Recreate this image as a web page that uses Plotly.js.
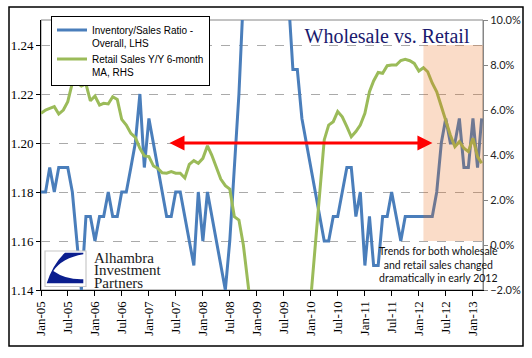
<!DOCTYPE html>
<html>
<head>
<meta charset="utf-8">
<script src="https://cdn.plot.ly/plotly-3.0.1.min.js"></script>
<style>html,body{margin:0;padding:0;background:#fff;}#chart{width:532px;height:358px;}</style>
</head>
<body>
<div id="chart"></div>
<script>
// Monthly observations, Jan-05 .. Mar-13
const months = [
  '2005-01-01','2005-02-01','2005-03-01','2005-04-01','2005-05-01','2005-06-01','2005-07-01','2005-08-01','2005-09-01','2005-10-01','2005-11-01','2005-12-01',
  '2006-01-01','2006-02-01','2006-03-01','2006-04-01','2006-05-01','2006-06-01','2006-07-01','2006-08-01','2006-09-01','2006-10-01','2006-11-01','2006-12-01',
  '2007-01-01','2007-02-01','2007-03-01','2007-04-01','2007-05-01','2007-06-01','2007-07-01','2007-08-01','2007-09-01','2007-10-01','2007-11-01','2007-12-01',
  '2008-01-01','2008-02-01','2008-03-01','2008-04-01','2008-05-01','2008-06-01','2008-07-01','2008-08-01','2008-09-01','2008-10-01','2008-11-01','2008-12-01',
  '2009-01-01','2009-02-01','2009-03-01','2009-04-01','2009-05-01','2009-06-01','2009-07-01','2009-08-01','2009-09-01','2009-10-01','2009-11-01','2009-12-01',
  '2010-01-01','2010-02-01','2010-03-01','2010-04-01','2010-05-01','2010-06-01','2010-07-01','2010-08-01','2010-09-01','2010-10-01','2010-11-01','2010-12-01',
  '2011-01-01','2011-02-01','2011-03-01','2011-04-01','2011-05-01','2011-06-01','2011-07-01','2011-08-01','2011-09-01','2011-10-01','2011-11-01','2011-12-01',
  '2012-01-01','2012-02-01','2012-03-01','2012-04-01','2012-05-01','2012-06-01','2012-07-01','2012-08-01','2012-09-01','2012-10-01','2012-11-01','2012-12-01',
  '2013-01-01','2013-02-01','2013-03-01'
];

// Inventory/Sales Ratio - Overall (LHS)
const invSalesRatio = [
  1.18,1.18,1.19,1.18,1.19,1.19,1.19,1.18,1.16,1.14,1.17,1.17,
  1.16,1.17,1.17,1.18,1.17,1.17,1.18,1.18,1.19,1.20,1.22,1.19,
  1.21,1.20,1.19,1.18,1.17,1.17,1.18,1.18,1.17,1.16,1.15,1.18,
  1.16,1.18,1.17,1.16,1.15,1.14,1.16,1.19,1.22,1.26,1.29,1.31,
  1.33,1.35,1.36,1.34,1.32,1.30,1.28,1.26,1.23,1.23,1.21,1.20,
  1.19,1.18,1.17,1.16,1.16,1.17,1.17,1.18,1.19,1.19,1.17,1.18,
  1.15,1.17,1.15,1.15,1.17,1.17,1.18,1.17,1.16,1.17,1.17,1.17,
  1.17,1.17,1.17,1.17,1.18,1.20,1.21,1.20,1.20,1.21,1.19,1.19,
  1.21,1.19,1.21
];

// Retail Sales Y/Y 6-month MA, % (RHS)
const retailSalesYoY = [
  5.85,6.00,6.07,6.15,5.82,6.00,6.37,7.21,7.21,7.07,7.16,6.41,
  6.62,6.22,6.30,6.27,6.59,6.47,5.58,5.33,4.96,4.78,4.30,3.96,
  3.93,3.51,3.41,3.21,3.19,3.26,3.19,3.19,2.98,3.58,3.75,3.63,
  3.85,4.41,4.00,3.48,2.93,2.64,2.49,1.26,1.11,0.00,-2.10,-3.50,
  -5.20,-6.80,-8.10,-9.00,-9.60,-9.80,-9.50,-8.70,-7.60,-6.20,-4.80,-3.40,
  -2.30,0.10,2.40,4.67,5.33,5.48,5.93,5.70,5.26,4.81,5.04,5.33,
  5.85,6.81,7.29,7.67,7.63,7.97,8.00,8.00,8.20,8.25,8.19,8.07,
  7.73,7.88,7.70,7.19,6.81,6.15,5.48,4.89,4.37,4.59,4.30,4.15,
  4.74,3.93,3.63
];

const seriesNames = ['Inventory/Sales Ratio -<br>Overall, LHS', 'Retail Sales Y/Y 6-month<br>MA, RHS'];
const titleText = 'Wholesale vs. Retail';
const noteText = 'Trends for both wholesale<br>and retail sales changed<br>dramatically in early 2012';
const logoLines = ['Alhambra', 'Investment', 'Partners'];
const arrowSpan = {from: '2007-05-10', to: '2012-04-02', level: 1.20};
const shadeSpan = {from: '2012-02-01', low: 1.16, high: 1.24};

// pixel -> paper helpers for decorative layout items
const M = {l: 41, r: 49, t: 20, b: 68};
const W = 532, H = 358;
const pw = W - M.l - M.r, ph = H - M.t - M.b;
const px = x => (x - M.l) / pw;
const py = y => (H - M.b - y) / ph;

const traces = [
  {
    x: months, y: invSalesRatio, name: seriesNames[0], type: 'scatter', mode: 'lines',
    line: {color: '#4A7EBB', width: 3}, yaxis: 'y'
  },
  {
    x: months, y: retailSalesYoY, name: seriesNames[1], type: 'scatter', mode: 'lines',
    line: {color: '#9BBB59', width: 3}, yaxis: 'y2'
  }
];

const logoPath = 'M ' + px(65) + ' ' + py(252.7) +
  ' L ' + px(83.3) + ' ' + py(252.7) +
  ' L ' + px(83.3) + ' ' + py(254.3) +
  ' Q ' + px(62) + ' ' + py(258) + ' ' + px(53.3) + ' ' + py(271) +
  ' Q ' + px(66) + ' ' + py(280) + ' ' + px(83.3) + ' ' + py(279.3) +
  ' L ' + px(83.3) + ' ' + py(283.3) +
  ' L ' + px(46.7) + ' ' + py(283.3) +
  ' Q ' + px(53) + ' ' + py(264) + ' ' + px(65) + ' ' + py(252.7) + ' Z';

const layout = {
  width: W, height: H,
  margin: M,
  paper_bgcolor: '#ffffff', plot_bgcolor: '#ffffff',
  showlegend: true,
  title: {
    text: titleText, x: 387 / W, y: 1 - 36 / H, xanchor: 'center', yanchor: 'middle',
    font: {family: 'Liberation Serif, Times New Roman, serif', size: 20, color: '#1a1a6e'}
  },
  legend: {
    x: px(51), y: py(16), xanchor: 'left', yanchor: 'top',
    bgcolor: '#ffffff', bordercolor: '#000000', borderwidth: 1,
    font: {family: 'Liberation Sans, Arial, sans-serif', size: 10, color: '#000000'},
    valign: 'top', itemwidth: 30, tracegroupgap: 2
  },
  xaxis: {
    type: 'date',
    range: ['2005-01-01', '2013-03-10'],
    tick0: '2005-01-01', dtick: 'M6', tickformat: '%b-%y',
    tickangle: -90,
    ticks: 'outside', ticklen: 5, tickcolor: '#000000', tickwidth: 1,
    showline: true, linecolor: '#000000', linewidth: 1,
    showgrid: false, zeroline: false,
    tickfont: {family: 'Liberation Serif, Times New Roman, serif', size: 13, color: '#000000'}
  },
  yaxis: {
    range: [1.14, 1.14 + 0.02 * ph / 49],
    tick0: 1.14, dtick: 0.02, tickformat: '.2f',
    ticks: 'outside', ticklen: 4, tickcolor: '#000000',
    showline: true, linecolor: '#000000', linewidth: 1,
    showgrid: true, gridcolor: '#AAAAAA', griddash: 'dash', gridwidth: 1,
    zeroline: false,
    tickfont: {family: 'Liberation Serif, Times New Roman, serif', size: 13, color: '#000000'}
  },
  yaxis2: {
    overlaying: 'y', side: 'right',
    range: [-2, 10], tick0: -2, dtick: 2, tickformat: '.1f', ticksuffix: '%',
    ticks: 'outside', ticklen: 4, tickcolor: '#868686',
    showline: true, linecolor: '#868686', linewidth: 1,
    showgrid: false, zeroline: false,
    tickfont: {family: 'Lato, Open Sans, sans-serif', size: 11, color: '#222222'}
  },
  shapes: [
    // plot-area frame (top/right grey)
    {type: 'rect', xref: 'paper', yref: 'paper', x0: 0, x1: 1, y0: 0, y1: 1,
     line: {color: '#868686', width: 1}, fillcolor: 'rgba(0,0,0,0)', layer: 'below'},
    // outer chart frame
    {type: 'rect', xref: 'paper', yref: 'paper', x0: px(9), x1: px(523), y0: py(346), y1: py(7),
     line: {color: '#000000', width: 1.5}, fillcolor: 'rgba(0,0,0,0)', layer: 'above'},
    // shaded 2012+ period
    {type: 'rect', xref: 'x', yref: 'y', x0: shadeSpan.from, x1: '2013-03-10', y0: shadeSpan.low, y1: shadeSpan.high,
     line: {width: 0}, fillcolor: 'rgb(233,103,16)', opacity: 0.23, layer: 'above'},
    // logo box
    {type: 'rect', xref: 'paper', yref: 'paper', x0: px(45), x1: px(86), y0: py(286.5), y1: py(251),
     line: {color: '#C8C8C8', width: 1.2}, fillcolor: '#ffffff', layer: 'above'},
    // logo mark
    {type: 'path', xref: 'paper', yref: 'paper', path: logoPath,
     line: {width: 0}, fillcolor: '#0B1E8E', layer: 'above'}
  ],
  annotations: [
    {
      xref: 'x', yref: 'y', axref: 'x', ayref: 'y',
      x: arrowSpan.to, y: arrowSpan.level, ax: arrowSpan.from, ay: arrowSpan.level,
      text: '', showarrow: true, arrowhead: 2, startarrowhead: 2, arrowside: 'end+start',
      arrowsize: 1, startarrowsize: 1, arrowwidth: 3, arrowcolor: '#FF0000', standoff: 0, startstandoff: 0
    },
    {
      xref: 'paper', yref: 'paper', x: px(438), y: py(264), xanchor: 'center', yanchor: 'middle',
      text: noteText, showarrow: false, align: 'center',
      font: {family: 'Lato, Open Sans, sans-serif', size: 10.5, color: '#111111'}
    },
    {xref: 'paper', yref: 'paper', x: px(92), y: py(257.5), xanchor: 'left', yanchor: 'middle',
     text: logoLines[0], showarrow: false,
     font: {family: 'Liberation Serif, Times New Roman, serif', size: 15, color: '#1a1a1a'}},
    {xref: 'paper', yref: 'paper', x: px(92), y: py(270), xanchor: 'left', yanchor: 'middle',
     text: logoLines[1], showarrow: false,
     font: {family: 'Liberation Serif, Times New Roman, serif', size: 15, color: '#1a1a1a'}},
    {xref: 'paper', yref: 'paper', x: px(92), y: py(282.5), xanchor: 'left', yanchor: 'middle',
     text: logoLines[2], showarrow: false,
     font: {family: 'Liberation Serif, Times New Roman, serif', size: 15, color: '#1a1a1a'}}
  ]
};

Plotly.newPlot('chart', traces, layout, {displayModeBar: false, staticPlot: true});
</script>
</body>
</html>
